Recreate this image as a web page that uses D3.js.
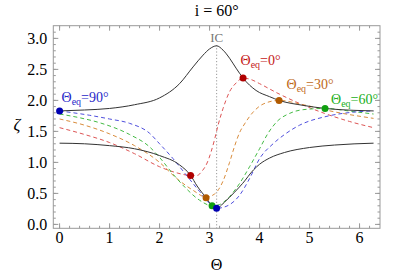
<!DOCTYPE html>
<html lang="en">
<head>
  <meta charset="UTF-8">
  <title>i = 60°</title>
  <style>
    body { margin: 0; background: #fff; }
    svg { display: block; }
  </style>
</head>
<body>
  <svg width="407" height="276" font-family="'Liberation Serif', 'Times New Roman', Times, serif"></svg>
  <script src="https://d3js.org/d3.v7.min.js"></script>
  <script>
    // envelopes (black) and the dashed curves, as [Θ, ζ]
    var envUpper = [[0,1.83],[0.5,1.845],[1.0,1.87],[1.5,1.93],[2.0,2.04],[2.4,2.27],[2.67,2.54],[2.87,2.73],[3.0,2.83],[3.14,2.88],[3.27,2.81],[3.4,2.68],[3.53,2.52],[3.67,2.36],[3.93,2.16],[4.2,2.06],[4.39,2.0],[4.87,1.92],[5.31,1.87],[5.87,1.84],[6.28,1.83]];
    var envLower = [[0,1.31],[0.5,1.30],[1.0,1.27],[1.5,1.22],[2.0,1.11],[2.4,0.96],[2.62,0.79],[2.75,0.62],[2.93,0.43],[3.05,0.30],[3.14,0.26],[3.3,0.36],[3.5,0.52],[3.66,0.66],[3.88,0.88],[4.0,0.97],[4.2,1.07],[4.5,1.16],[5.0,1.24],[5.5,1.28],[6.28,1.31]];
    var eq0 = [[0,1.56],[0.5,1.45],[1.0,1.32],[1.5,1.14],[2.0,0.93],[2.35,0.83],[2.62,0.79],[2.75,0.79],[2.85,0.86],[2.95,0.99],[3.03,1.17],[3.1,1.37],[3.17,1.60],[3.27,1.87],[3.4,2.14],[3.53,2.28],[3.67,2.36],[3.85,2.33],[4.0,2.27],[4.4,2.1],[4.8,1.95],[5.3,1.79],[5.8,1.66],[6.28,1.56]];
    var eq30 = [[0,1.70],[0.5,1.60],[1.0,1.46],[1.5,1.27],[2.0,1.00],[2.33,0.75],[2.67,0.55],[2.93,0.44],[3.1,0.49],[3.27,0.70],[3.4,1.00],[3.5,1.26],[3.6,1.48],[3.7,1.62],[3.87,1.81],[4.07,1.94],[4.39,2.0],[4.87,1.93],[5.53,1.81],[6.28,1.71]];
    var eq60 = [[0,1.78],[0.4,1.72],[0.8,1.64],[1.4,1.45],[1.8,1.25],[2.0,1.08],[2.27,0.81],[2.53,0.58],[2.8,0.39],[3.05,0.30],[3.2,0.32],[3.4,0.45],[3.6,0.66],[3.8,0.93],[4.0,1.22],[4.17,1.47],[4.35,1.66],[4.6,1.79],[4.87,1.85],[5.31,1.87],[5.87,1.82],[6.28,1.78]];
    var eq90 = [[0,1.83],[0.6,1.76],[1.0,1.70],[1.4,1.63],[1.8,1.47],[2.0,1.30],[2.27,1.06],[2.53,0.80],[2.8,0.53],[3.0,0.34],[3.14,0.26],[3.33,0.29],[3.6,0.47],[3.8,0.74],[4.0,1.06],[4.27,1.30],[4.5,1.45],[4.8,1.60],[5.33,1.74],[5.87,1.81],[6.28,1.83]];

    // touching points
    var dots0 = [[2.62,0.79],[3.67,2.36]];
    var dots30 = [[2.93,0.43],[4.39,2.0]];
    var dots60 = [[3.05,0.30],[5.31,1.87]];
    var dots90 = [[0,1.83],[3.14,0.26]];

    var xTicks = [0, 1, 2, 3, 4, 5, 6];
    var yTicks = [0, 0.5, 1, 1.5, 2, 2.5, 3];
    var icTheta = Math.PI;

    var svg = d3.select('svg');
    var margin = { top: 25.7, left: 53.3, right: 27, bottom: 47.7 };
    var width = 407, height = 276;

    var x = d3.scaleLinear()
      .domain([-0.02 * 2 * Math.PI, 2 * Math.PI * 1.02])
      .range([margin.left, width - margin.right]);
    var y = d3.scaleLinear()
      .domain([-0.02 * Math.PI, Math.PI * 1.02])
      .range([height - margin.bottom, margin.top]);

    // frame
    svg.append('rect')
      .attr('x', x.range()[0]).attr('y', y.range()[1])
      .attr('width', x.range()[1] - x.range()[0])
      .attr('height', y.range()[0] - y.range()[1])
      .attr('fill', 'none').attr('stroke', '#999').attr('stroke-width', 1);

    // ticks on all four sides, inward
    var xMinor = d3.range(0, 6.3, 0.2);
    var yMinor = d3.range(0, 3.15, 0.1);
    function tickPath(g, vals, len, side) {
      vals.forEach(function (v) {
        var p;
        if (side === 'b') p = [[x(v), y.range()[0]], [x(v), y.range()[0] - len]];
        if (side === 't') p = [[x(v), y.range()[1]], [x(v), y.range()[1] + len]];
        if (side === 'l') p = [[x.range()[0], y(v)], [x.range()[0] + len, y(v)]];
        if (side === 'r') p = [[x.range()[1], y(v)], [x.range()[1] - len, y(v)]];
        g.append('line')
          .attr('x1', p[0][0]).attr('y1', p[0][1])
          .attr('x2', p[1][0]).attr('y2', p[1][1]);
      });
    }
    var tg = svg.append('g').attr('stroke', '#999').attr('stroke-width', 1);
    ['b', 't'].forEach(function (s) {
      tickPath(tg, xMinor, 2.5, s);
      tickPath(tg, xTicks, 5, s);
    });
    ['l', 'r'].forEach(function (s) {
      tickPath(tg, yMinor, 2.5, s);
      tickPath(tg, yTicks, 5, s);
    });

    svg.append('g').selectAll('text').data(xTicks).join('text')
      .attr('x', d => x(d)).attr('y', y.range()[0] + 15)
      .attr('text-anchor', 'middle').attr('font-size', 16)
      .text(d => d);
    svg.append('g').selectAll('text').data(yTicks).join('text')
      .attr('x', x.range()[0] - 6).attr('y', d => y(d) + 5.5)
      .attr('text-anchor', 'end').attr('font-size', 16)
      .text(d => d3.format('.1f')(d));

    // axis titles
    svg.append('text').attr('x', (x.range()[0] + x.range()[1]) / 2).attr('y', 270)
      .attr('text-anchor', 'middle').attr('font-size', 16).text('Θ');
    svg.append('text').attr('x', 17).attr('y', 130)
      .attr('text-anchor', 'middle').attr('font-size', 17).attr('font-style', 'italic').text('ζ');
    svg.append('text').attr('x', (x.range()[0] + x.range()[1]) / 2).attr('y', 16)
      .attr('text-anchor', 'middle').attr('font-size', 16).text('i = 60°');

    // IC marker
    svg.append('line')
      .attr('x1', x(icTheta)).attr('x2', x(icTheta))
      .attr('y1', 45).attr('y2', y.range()[0])
      .attr('stroke', '#999').attr('stroke-width', 1).attr('stroke-dasharray', '1.2,2');
    svg.append('text').attr('x', x(icTheta)).attr('y', 42)
      .attr('text-anchor', 'middle').attr('font-size', 13).attr('fill', '#777').text('IC');

    var line = d3.line()
      .x(d => x(d[0]))
      .y(d => y(d[1]))
      .curve(d3.curveMonotoneX);

    var series = [
      { data: eq0, dots: dots0, color: '#dd5555', dot: '#b00000', lab: '0°', lx: 240.5, ly: 65, lc: '#c41818' },
      { data: eq30, dots: dots30, color: '#d98c3c', dot: '#b05a00', lab: '30°', lx: 286.5, ly: 89, lc: '#c06a1a' },
      { data: eq60, dots: dots60, color: '#44bb44', dot: '#10a010', lab: '60°', lx: 331, ly: 104, lc: '#22b022' },
      { data: eq90, dots: dots90, color: '#4f4fdd', dot: '#0000b0', lab: '90°', lx: 61.5, ly: 102, lc: '#2828c8' }
    ];

    series.forEach(function (s) {
      svg.append('path')
        .attr('d', line(s.data))
        .attr('fill', 'none').attr('stroke', s.color)
        .attr('stroke-width', 1).attr('stroke-dasharray', '4,3');
    });

    [envUpper, envLower].forEach(function (d) {
      svg.append('path')
        .attr('d', line(d))
        .attr('fill', 'none').attr('stroke', '#333').attr('stroke-width', 1);
    });

    series.forEach(function (s) {
      svg.append('g').selectAll('circle').data(s.dots).join('circle')
        .attr('cx', d => x(d[0])).attr('cy', d => y(d[1])).attr('r', 3.5)
        .attr('fill', s.dot);
      var t = svg.append('text').attr('x', s.lx).attr('y', s.ly)
        .attr('font-size', 14).attr('fill', s.lc);
      t.append('tspan').text('Θ');
      t.append('tspan').attr('font-size', 10).attr('dy', 3).text('eq');
      t.append('tspan').attr('dy', -3).text('=' + s.lab);
    });
  </script>
</body>
</html>
